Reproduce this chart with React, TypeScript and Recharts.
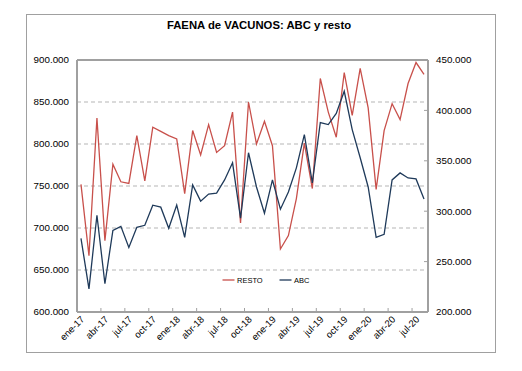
import React from 'react';
import { ComposedChart, Line, XAxis, YAxis, CartesianGrid, Legend, ReferenceLine } from 'recharts';

const months = [
  'ene-17','feb-17','mar-17','abr-17','may-17','jun-17','jul-17','ago-17','sep-17','oct-17','nov-17','dic-17',
  'ene-18','feb-18','mar-18','abr-18','may-18','jun-18','jul-18','ago-18','sep-18','oct-18','nov-18','dic-18',
  'ene-19','feb-19','mar-19','abr-19','may-19','jun-19','jul-19','ago-19','sep-19','oct-19','nov-19','dic-19',
  'ene-20','feb-20','mar-20','abr-20','may-20','jun-20','jul-20','ago-20',
];

// thousands of head
const resto = [
  752, 667, 831, 685, 776, 755, 753, 810, 756, 820, 815, 810,
  806, 741, 816, 787, 823, 790, 798, 838, 706, 850, 800, 827,
  798, 675, 691, 735, 801, 747, 878, 838, 808, 885, 834, 890,
  843, 746, 816, 848, 829, 872, 897, 883,
];

const abc = [
  273, 223, 296, 228, 281, 285, 264, 284, 286, 306, 304, 283,
  306, 274, 326, 310, 317, 318, 331, 348, 293, 358, 324, 298,
  331, 302, 319, 343, 376, 328, 388, 386, 397, 419, 381, 353,
  324, 274, 277, 331, 338, 333, 332, 312,
];

const leftTicks = [600000, 650000, 700000, 750000, 800000, 850000, 900000];
const rightTicks = [200000, 250000, 300000, 350000, 400000, 450000];
const legendOrder = ['RESTO', 'ABC'];

const data = months.map((m, i) => ({ m, resto: resto[i] * 1000, abc: abc[i] * 1000 }));

const FONT = '"Liberation Sans", Arial, sans-serif';
const AXIS = '#a0a0a0';
const RED = '#C8504B';
const NAVY = '#1F3A5A';

const fmt = (v: number) => String(v).replace(/\B(?=(\d{3})+(?!\d))/g, '.');

const XTick = (props: any) => {
  const { x, y, payload } = props;
  const tx = x + 4;
  const ty = y + 8;
  return (
    <g>
      <line x1={x - 4} x2={x - 4} y1={y} y2={y - 4} stroke={AXIS} strokeWidth={1} />
      <text x={tx} y={ty} transform={`rotate(-45 ${tx} ${ty})`} textAnchor="end" fontSize={9.5} fontFamily={FONT} fill="#000">
        {payload.value}
      </text>
    </g>
  );
};

const LeftTick = (props: any) => {
  const { x, y, payload } = props;
  return (
    <text x={x - 8} y={y} dy="0.35em" textAnchor="end" fontSize={9.8} fontFamily={FONT} fill="#000">
      {fmt(payload.value)}
    </text>
  );
};

const RightTick = (props: any) => {
  const { x, y, payload } = props;
  return (
    <g>
      <line x1={x - 4} x2={x} y1={y} y2={y} stroke={AXIS} strokeWidth={1} />
      <text x={x + 8} y={y} dy="0.35em" textAnchor="start" fontSize={9.8} fontFamily={FONT} fill="#000">
        {fmt(payload.value)}
      </text>
    </g>
  );
};

const LegendContent = (props: any) => {
  const items = [...(props.payload || [])].sort(
    (a: any, b: any) => legendOrder.indexOf(a.value) - legendOrder.indexOf(b.value)
  );
  const offsets = [0, 57];
  return (
    <svg width={110} height={12} style={{ display: 'block' }}>
      {items.map((it: any, i: number) => (
        <g key={i}>
          <line x1={offsets[i] + 2.5} x2={offsets[i] + 14.5} y1={6} y2={6} stroke={it.color} strokeWidth={1.3} />
          <text x={offsets[i] + 17} y={8.7} fontSize={7.5} fontFamily={FONT} fill="#000">{it.value}</text>
        </g>
      ))}
    </svg>
  );
};

export default function App() {
  return (
    <div style={{ position: 'absolute', left: 0, top: 0, width: 522, height: 371, background: '#fff' }}>
      <div style={{ position: 'absolute', left: 26, top: 14, width: 468, height: 337, border: '1px solid #a0a0a0' }} />
      <div
        style={{
          position: 'absolute', left: 24, top: 20, width: 470, textAlign: 'center',
          fontFamily: FONT, fontWeight: 'bold', fontSize: 11.3, lineHeight: '11.3px', color: '#000',
        }}
      >
        FAENA de VACUNOS: ABC y resto
      </div>
      <ComposedChart width={522} height={371} data={data} margin={{ top: 60, right: 0, bottom: 0, left: 0 }}>
        <CartesianGrid yAxisId="left" vertical={false} stroke="#b5b5b5" strokeDasharray="4 3" />
        <XAxis
          dataKey="m"
          scale="band"
          height={59}
          interval={2}
          tickSize={0}
          tickMargin={0}
          tickLine={false}
          axisLine={{ stroke: AXIS, strokeWidth: 2 }}
          tick={<XTick />}
        />
        <YAxis
          yAxisId="left"
          orientation="left"
          width={77}
          domain={[600000, 900000]}
          ticks={leftTicks}
          interval={0}
          tickSize={0}
          tickMargin={0}
          tickLine={false}
          axisLine={{ stroke: AXIS, strokeWidth: 2 }}
          tick={<LeftTick />}
        />
        <YAxis
          yAxisId="right"
          orientation="right"
          width={94}
          domain={[200000, 450000]}
          ticks={rightTicks}
          interval={0}
          tickSize={0}
          tickMargin={0}
          tickLine={false}
          axisLine={{ stroke: AXIS, strokeWidth: 2 }}
          tick={<RightTick />}
        />
        <ReferenceLine yAxisId="left" y={900000} stroke={AXIS} strokeWidth={2} />
        <Line yAxisId="left" type="linear" dataKey="resto" name="RESTO" stroke={RED} strokeWidth={1.3} dot={false} isAnimationActive={false} />
        <Line yAxisId="right" type="linear" dataKey="abc" name="ABC" stroke={NAVY} strokeWidth={1.3} dot={false} isAnimationActive={false} />
        <Legend
          layout="horizontal"
          verticalAlign="middle"
          align="center"
          content={<LegendContent />}
          wrapperStyle={{ left: 220, top: 274, width: 110, height: 12 }}
        />
      </ComposedChart>
    </div>
  );
}
